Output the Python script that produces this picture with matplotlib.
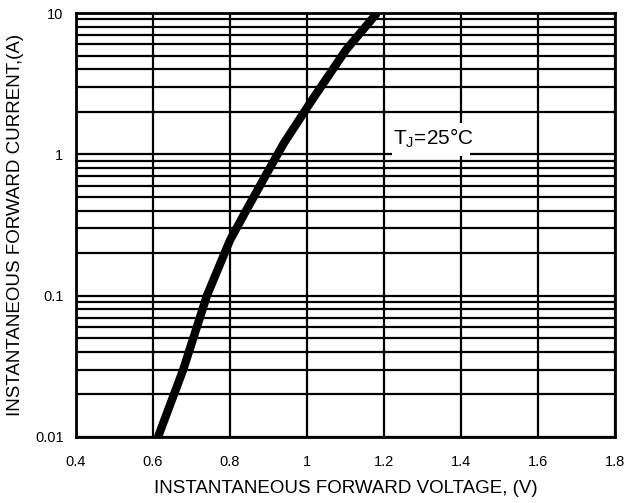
import matplotlib
matplotlib.use("Agg")
import matplotlib.pyplot as plt
from matplotlib.ticker import FixedLocator, NullFormatter
from matplotlib.patches import Rectangle

plt.rcParams['font.family'] = ['Liberation Sans', 'DejaVu Sans']

voltage = [0.613, 0.678, 0.740, 0.800, 0.847, 0.896, 0.940, 1.013, 1.101, 1.182]
current = [0.01, 0.0297, 0.1, 0.247, 0.424, 0.737, 1.2, 2.42, 5.47, 10.0]

x_ticks = [0.4, 0.6, 0.8, 1.0, 1.2, 1.4, 1.6, 1.8]
x_tick_labels = ["0.4", "0.6", "0.8", "1", "1.2", "1.4", "1.6", "1.8"]
y_ticks = [0.01, 0.1, 1, 10]
y_tick_labels = ["0.01", "0.1", "1", "10"]

fig = plt.figure(figsize=(6.27, 5.03), dpi=100)
ax = fig.add_axes([76/627, 1-437/503, (615-76)/627, (437-13)/503])
ax.set_yscale('log')
ax.set_xlim(0.4, 1.8)
ax.set_ylim(0.01, 10)

ax.set_xticks(x_ticks)
ax.set_xticklabels(x_tick_labels, fontsize=10.5)
ax.set_yticks(y_ticks)
ax.set_yticklabels(y_tick_labels, fontsize=10.5)
minor = [m * d for d in [0.01, 0.1, 1] for m in range(2, 10)]
ax.yaxis.set_minor_locator(FixedLocator(minor))
ax.yaxis.set_minor_formatter(NullFormatter())
ax.tick_params(which='both', length=0)
ax.tick_params(axis='x', pad=13)
ax.tick_params(axis='y', pad=9)

ax.grid(True, which='major', axis='both', color='black', linewidth=1.6)
ax.grid(True, which='minor', axis='y', color='black', linewidth=1.6)
for s in ax.spines.values():
    s.set_linewidth(2)

ax.plot(voltage, current, color='black', linewidth=6, solid_capstyle='butt',
        solid_joinstyle='round', zorder=5)

# white label background
ax.add_patch(Rectangle((1.221, 0.973), 1.4234 - 1.221, 1.665 - 0.973,
                       facecolor='white', edgecolor='none', zorder=4))
ax.text(1.224, 1.18, r"T$_\mathregular{J}$=25°C", fontsize=15, ha='left', va='baseline',
        zorder=6)

ax.set_xlabel("INSTANTANEOUS FORWARD VOLTAGE, (V)", fontsize=13.5, labelpad=8)
ax.set_ylabel("INSTANTANEOUS FORWARD CURRENT,(A)", fontsize=13.5, labelpad=8)

fig.savefig("out.png", dpi=100)
